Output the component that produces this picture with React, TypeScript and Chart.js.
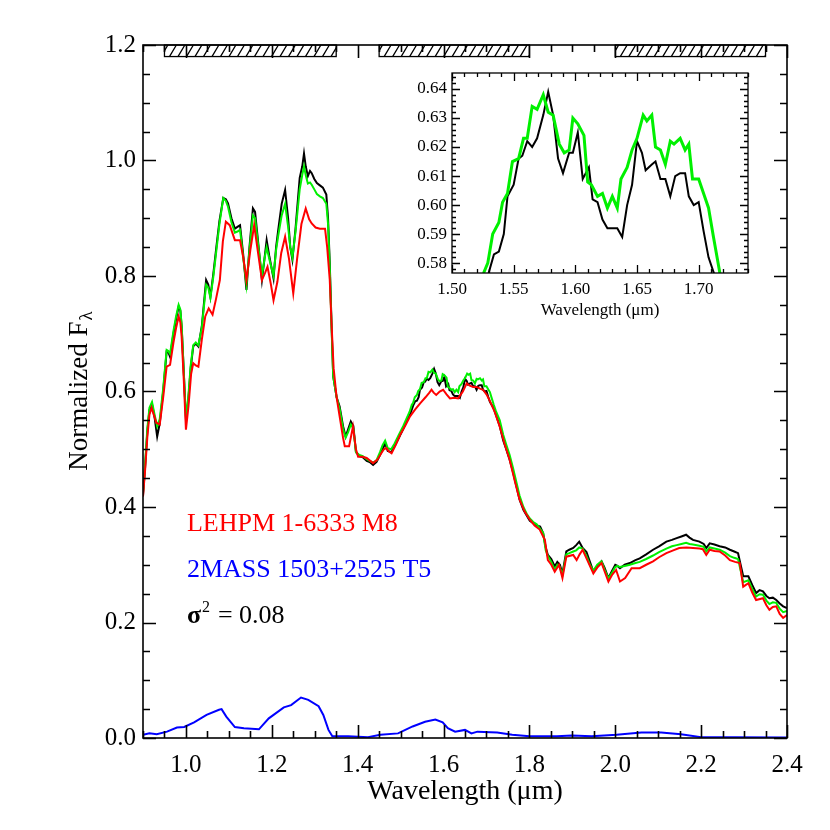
import React, { useEffect, useRef } from "react";
import { Chart, registerables } from "chart.js";

Chart.register(...registerables);

// ---------- data ----------
const blackWl = [0.900,0.905,0.910,0.915,0.921,0.927,0.933,0.939,0.947,0.955,0.959,0.963,0.971,0.977,0.983,0.987,0.990,0.994,1.000,1.005,1.011,1.017,1.023,1.029,1.037,1.047,1.052,1.057,1.064,1.071,1.078,1.087,1.093,1.098,1.106,1.114,1.120,1.126,1.133,1.141,1.148,1.156,1.161,1.168,1.177,1.183,1.188,1.194,1.204,1.210,1.215,1.223,1.231,1.238,1.243,1.248,1.255,1.265,1.271,1.275,1.279,1.284,1.289,1.293,1.299,1.305,1.312,1.319,1.327,1.331,1.335,1.339,1.343,1.351,1.358,1.366,1.372,1.378,1.384,1.390,1.396,1.404,1.412,1.421,1.428,1.436,1.444,1.452,1.458,1.464,1.470,1.478,1.486,1.496,1.506,1.515,1.523,
1.530,1.534,1.538,1.542,1.545,1.550,1.554,1.557,1.561,1.565,1.569,1.574,1.578,1.582,1.586,1.590,1.595,1.598,1.602,1.606,1.611,1.614,1.618,1.622,1.626,1.630,1.634,1.638,1.642,1.646,1.650,1.654,1.657,1.662,1.665,1.669,1.673,1.677,1.681,1.685,1.689,1.692,1.696,1.700,1.704,1.708,1.712,
1.716,1.722,1.731,1.739,1.746,1.754,1.762,1.770,1.777,1.786,1.794,1.801,1.809,1.817,1.825,1.832,1.838,1.843,1.851,1.859,1.865,1.871,1.877,1.886,1.893,1.902,1.909,1.916,1.924,1.933,1.941,1.949,1.958,1.968,1.975,1.984,1.993,2.000,2.005,2.011,2.022,2.034,2.047,2.057,2.072,2.088,2.102,2.119,2.132,2.143,2.154,2.165,2.173,2.181,2.196,2.206,2.212,2.220,2.231,2.243,2.256,2.267,2.277,2.286,2.292,2.298,2.310,2.319,2.328,2.336,2.344,2.352,2.359,2.367,2.375,2.383,2.391,2.400];
const blackFlux = [0.420,0.470,0.530,0.568,0.578,0.555,0.522,0.545,0.600,0.669,0.668,0.660,0.700,0.725,0.747,0.740,0.713,0.650,0.551,0.580,0.640,0.678,0.683,0.678,0.713,0.793,0.785,0.764,0.805,0.851,0.895,0.935,0.933,0.926,0.900,0.882,0.885,0.888,0.840,0.776,0.850,0.917,0.911,0.860,0.793,0.830,0.862,0.835,0.796,0.850,0.880,0.925,0.949,0.900,0.850,0.828,0.880,0.970,0.990,1.012,0.990,0.973,0.982,0.978,0.968,0.961,0.957,0.953,0.941,0.900,0.822,0.720,0.626,0.590,0.574,0.540,0.522,0.535,0.548,0.540,0.495,0.488,0.486,0.480,0.478,0.473,0.478,0.490,0.500,0.510,0.497,0.495,0.505,0.520,0.535,0.550,0.562,
0.577,0.583,0.584,0.590,0.603,0.607,0.616,0.617,0.622,0.620,0.623,0.631,0.639,0.631,0.616,0.611,0.618,0.618,0.625,0.609,0.613,0.602,0.601,0.595,0.592,0.592,0.592,0.589,0.600,0.607,0.622,0.618,0.612,0.614,0.615,0.609,0.609,0.603,0.610,0.611,0.611,0.603,0.600,0.601,0.591,0.582,0.577,
0.572,0.560,0.540,0.515,0.500,0.482,0.460,0.435,0.413,0.395,0.385,0.376,0.372,0.368,0.366,0.355,0.330,0.317,0.310,0.297,0.305,0.300,0.285,0.323,0.326,0.329,0.334,0.340,0.329,0.322,0.305,0.288,0.298,0.306,0.295,0.277,0.290,0.300,0.298,0.294,0.300,0.303,0.308,0.311,0.318,0.326,0.332,0.340,0.343,0.346,0.349,0.352,0.347,0.343,0.340,0.336,0.329,0.337,0.335,0.332,0.330,0.326,0.323,0.320,0.300,0.280,0.280,0.265,0.251,0.256,0.254,0.246,0.242,0.243,0.239,0.233,0.228,0.225];

const greenWl = [0.900,0.905,0.910,0.915,0.921,0.927,0.933,0.939,0.947,0.955,0.959,0.963,0.971,0.977,0.983,0.987,0.990,0.994,1.000,1.005,1.011,1.017,1.023,1.029,1.037,1.047,1.052,1.057,1.064,1.071,1.078,1.087,1.093,1.098,1.106,1.114,1.120,1.126,1.133,1.141,1.148,1.156,1.161,1.168,1.177,1.183,1.188,1.194,1.204,1.210,1.215,1.223,1.231,1.238,1.243,1.248,1.255,1.265,1.271,1.275,1.279,1.284,1.289,1.293,1.299,1.305,1.312,1.319,1.327,1.331,1.335,1.339,1.343,1.351,1.358,1.366,1.372,1.378,1.384,1.390,1.396,1.404,1.412,1.421,1.428,1.436,1.444,1.452,1.458,1.464,1.470,1.478,1.486,1.496,1.506,1.515,1.521,
1.526,1.529,1.533,1.538,1.541,1.545,1.549,1.554,1.558,1.561,1.565,1.569,1.574,1.578,1.582,1.587,1.591,1.595,1.598,1.602,1.607,1.610,1.613,1.618,1.622,1.626,1.630,1.634,1.637,1.642,1.646,1.650,1.655,1.658,1.662,1.665,1.669,1.673,1.677,1.680,1.685,1.689,1.692,1.695,1.700,1.704,1.708,1.712,1.717,
1.722,1.731,1.739,1.746,1.754,1.762,1.770,1.777,1.786,1.794,1.801,1.809,1.817,1.825,1.832,1.838,1.843,1.851,1.859,1.865,1.871,1.877,1.886,1.893,1.902,1.909,1.916,1.924,1.933,1.941,1.949,1.958,1.968,1.975,1.984,1.993,2.000,2.005,2.011,2.022,2.034,2.047,2.057,2.072,2.088,2.102,2.119,2.132,2.143,2.154,2.165,2.173,2.181,2.196,2.206,2.212,2.220,2.231,2.243,2.256,2.267,2.277,2.286,2.292,2.298,2.310,2.319,2.328,2.336,2.344,2.352,2.359,2.367,2.375,2.383,2.391,2.400];
const greenFlux = [0.425,0.475,0.535,0.572,0.582,0.560,0.540,0.552,0.605,0.672,0.670,0.665,0.705,0.730,0.750,0.742,0.715,0.650,0.555,0.585,0.645,0.680,0.685,0.680,0.710,0.785,0.780,0.762,0.800,0.845,0.890,0.935,0.930,0.920,0.893,0.875,0.877,0.880,0.835,0.785,0.845,0.905,0.900,0.855,0.800,0.830,0.850,0.830,0.800,0.845,0.870,0.905,0.925,0.885,0.850,0.832,0.875,0.950,0.975,0.990,0.975,0.960,0.962,0.958,0.950,0.942,0.938,0.935,0.925,0.890,0.815,0.715,0.626,0.590,0.570,0.535,0.520,0.530,0.543,0.536,0.495,0.490,0.488,0.483,0.480,0.477,0.481,0.495,0.507,0.515,0.502,0.500,0.510,0.525,0.540,0.555,0.565,
0.577,0.580,0.590,0.594,0.601,0.604,0.615,0.616,0.623,0.623,0.634,0.633,0.638,0.632,0.631,0.621,0.618,0.619,0.630,0.628,0.624,0.608,0.607,0.603,0.604,0.599,0.603,0.599,0.609,0.613,0.619,0.623,0.631,0.629,0.631,0.620,0.619,0.614,0.622,0.621,0.623,0.619,0.621,0.609,0.609,0.604,0.599,0.589,0.577,
0.566,0.550,0.525,0.508,0.490,0.467,0.442,0.420,0.400,0.388,0.380,0.374,0.370,0.362,0.355,0.325,0.315,0.305,0.292,0.300,0.296,0.282,0.318,0.320,0.323,0.325,0.330,0.328,0.315,0.300,0.290,0.300,0.306,0.292,0.276,0.287,0.296,0.298,0.296,0.298,0.300,0.303,0.305,0.310,0.316,0.322,0.328,0.332,0.334,0.336,0.338,0.336,0.335,0.333,0.331,0.323,0.330,0.328,0.326,0.321,0.315,0.312,0.310,0.290,0.270,0.273,0.258,0.245,0.249,0.248,0.238,0.232,0.235,0.234,0.224,0.218,0.220];

const redWl = [0.900,0.905,0.910,0.915,0.920,0.925,0.931,0.939,0.947,0.955,0.963,0.971,0.977,0.983,0.987,0.990,0.995,1.000,1.006,1.012,1.017,1.023,1.029,1.037,1.045,1.053,1.062,1.070,1.079,1.086,1.093,1.102,1.108,1.114,1.126,1.134,1.141,1.150,1.159,1.168,1.177,1.184,1.190,1.198,1.204,1.213,1.222,1.231,1.240,1.250,1.259,1.269,1.279,1.287,1.293,1.302,1.312,1.324,1.329,1.335,1.339,1.344,1.351,1.358,1.366,1.370,1.380,1.389,1.396,1.401,1.411,1.421,1.436,1.446,1.455,1.461,1.467,1.473,1.479,1.489,1.499,1.511,1.522,1.534,1.546,1.558,1.567,1.572,1.577,1.583,1.591,1.599,1.607,1.615,1.625,1.634,1.645,1.654,1.661,1.669,1.677,1.685,1.692,1.700,1.707,1.719,1.731,1.742,1.754,1.766,1.777,1.789,1.801,1.812,1.824,1.830,1.836,1.843,1.851,1.859,1.869,1.877,1.886,1.902,1.910,1.917,1.924,1.933,1.949,1.958,1.968,1.984,1.993,2.002,2.011,2.023,2.038,2.057,2.072,2.088,2.102,2.119,2.135,2.149,2.166,2.181,2.196,2.204,2.212,2.220,2.231,2.243,2.256,2.267,2.279,2.290,2.298,2.310,2.319,2.328,2.344,2.352,2.359,2.367,2.375,2.383,2.391,2.400];
const redFlux = [0.418,0.465,0.520,0.560,0.572,0.560,0.546,0.543,0.590,0.643,0.646,0.685,0.710,0.730,0.720,0.695,0.620,0.534,0.575,0.630,0.649,0.645,0.643,0.690,0.730,0.744,0.733,0.760,0.793,0.860,0.894,0.888,0.875,0.862,0.862,0.830,0.793,0.845,0.888,0.840,0.793,0.805,0.816,0.785,0.758,0.790,0.840,0.868,0.830,0.770,0.830,0.890,0.917,0.898,0.891,0.884,0.882,0.882,0.850,0.793,0.720,0.640,0.590,0.557,0.520,0.505,0.505,0.539,0.500,0.487,0.487,0.485,0.476,0.482,0.493,0.500,0.502,0.496,0.493,0.508,0.525,0.541,0.557,0.569,0.580,0.590,0.598,0.603,0.598,0.594,0.600,0.603,0.595,0.588,0.589,0.588,0.600,0.614,0.610,0.608,0.608,0.605,0.603,0.595,0.585,0.565,0.539,0.510,0.482,0.445,0.413,0.392,0.378,0.368,0.361,0.352,0.343,0.308,0.300,0.288,0.300,0.277,0.314,0.317,0.308,0.318,0.326,0.311,0.285,0.295,0.303,0.271,0.283,0.291,0.271,0.277,0.294,0.294,0.300,0.306,0.313,0.320,0.325,0.329,0.330,0.329,0.328,0.327,0.317,0.326,0.324,0.323,0.316,0.308,0.305,0.303,0.262,0.268,0.252,0.239,0.242,0.230,0.222,0.227,0.228,0.215,0.208,0.213];

const blueWl = [0.900,0.915,0.932,0.956,0.979,0.996,1.019,1.048,1.077,1.083,1.094,1.114,1.135,1.170,1.193,1.228,1.245,1.268,1.285,1.309,1.320,1.332,1.341,1.378,1.424,1.453,1.494,1.528,1.557,1.581,1.598,1.610,1.627,1.650,1.665,1.679,1.725,1.760,1.800,1.864,1.899,1.945,2.003,2.061,2.107,2.153,2.200,2.281,2.400];
const blueFlux = [0.0055,0.008,0.0066,0.011,0.018,0.019,0.027,0.040,0.049,0.050,0.037,0.019,0.017,0.015,0.034,0.053,0.057,0.070,0.066,0.055,0.040,0.014,0.003,0.003,0.0015,0.0055,0.008,0.020,0.028,0.032,0.027,0.017,0.011,0.014,0.008,0.011,0.0095,0.0055,0.003,0.003,0.0045,0.003,0.0055,0.0095,0.0095,0.0066,0.0015,0.0015,0.001];

const xTickValues = [1.0, 1.2, 1.4, 1.6, 1.8, 2.0, 2.2, 2.4];
const yTickValues = [0.0, 0.2, 0.4, 0.6, 0.8, 1.0, 1.2];
const insetXTickValues = [1.50, 1.55, 1.60, 1.65, 1.70];
const insetYTickValues = [0.58, 0.59, 0.60, 0.61, 0.62, 0.63, 0.64];

const bandStart = [0.95, 1.45, 2.00];
const bandEnd = [1.35, 1.80, 2.35];

const labelNames = ["LEHPM 1-6333 M8", "2MASS 1503+2525 T5"];
const sigmaValue = "0.08";

// ---------- styling ----------
const FONT = "'Liberation Serif', 'Times New Roman', serif";
const RED = "#ff0000";
const GREEN = "#00f000";
const BLACK = "#000000";
const BLUE = "#0000ff";

function pts(xs: number[], ys: number[]) {
  return xs.map((x, i) => ({ x, y: ys[i] }));
}

function drawFrameAndTicks(
  chart: any,
  cfg: { lw: number; xMinor: number; xMajor: number; yMinor: number; yMajor: number; majLen: number; minLen: number }
) {
  const { ctx, chartArea: a, scales } = chart;
  const xs = scales.x;
  const ys = scales.y;
  ctx.save();
  ctx.strokeStyle = "#000";
  ctx.lineWidth = cfg.lw;
  ctx.beginPath();
  const isMajor = (v: number, step: number) => Math.abs(v / step - Math.round(v / step)) < 1e-6;
  const xStart = Math.ceil(xs.min / cfg.xMinor - 1e-6);
  const xEnd = Math.floor(xs.max / cfg.xMinor + 1e-6);
  for (let k = xStart; k <= xEnd; k++) {
    const v = k * cfg.xMinor;
    const len = isMajor(v, cfg.xMajor) ? cfg.majLen : cfg.minLen;
    const p = Math.round(xs.getPixelForValue(v)) + 0.5;
    ctx.moveTo(p, a.bottom);
    ctx.lineTo(p, a.bottom - len);
    ctx.moveTo(p, a.top);
    ctx.lineTo(p, a.top + len);
  }
  const yStart = Math.ceil(ys.min / cfg.yMinor - 1e-6);
  const yEnd = Math.floor(ys.max / cfg.yMinor + 1e-6);
  for (let k = yStart; k <= yEnd; k++) {
    const v = k * cfg.yMinor;
    const len = isMajor(v, cfg.yMajor) ? cfg.majLen : cfg.minLen;
    const p = Math.round(ys.getPixelForValue(v)) + 0.5;
    ctx.moveTo(a.left, p);
    ctx.lineTo(a.left + len, p);
    ctx.moveTo(a.right, p);
    ctx.lineTo(a.right - len, p);
  }
  ctx.stroke();
  ctx.strokeRect(a.left, a.top, a.right - a.left, a.bottom - a.top);
  ctx.restore();
}

const mainPlugin = {
  id: "mainDecor",
  afterDraw(chart: any) {
    const { ctx, chartArea: a, scales } = chart;
    const xs = scales.x;
    const ys = scales.y;

    // hatched bands at top
    ctx.save();
    const yTop = ys.getPixelForValue(1.2);
    const yBot = ys.getPixelForValue(1.18);
    for (let i = 0; i < bandStart.length; i++) {
      const x0 = xs.getPixelForValue(bandStart[i]);
      const x1 = xs.getPixelForValue(bandEnd[i]);
      ctx.save();
      ctx.beginPath();
      ctx.rect(x0, yTop, x1 - x0, yBot - yTop);
      ctx.clip();
      ctx.strokeStyle = "#000";
      ctx.lineWidth = 1.3;
      ctx.beginPath();
      const h = yBot - yTop;
      for (let x = x0 - 12; x < x1 + 12; x += 8.5) {
        ctx.moveTo(x, yBot);
        ctx.lineTo(x + h * 0.6, yTop);
      }
      ctx.stroke();
      ctx.restore();
      ctx.strokeStyle = "#000";
      ctx.lineWidth = 1.3;
      ctx.strokeRect(x0, yTop, x1 - x0, yBot - yTop);
    }
    ctx.restore();

    drawFrameAndTicks(chart, { lw: 1.6, xMinor: 0.05, xMajor: 0.2, yMinor: 0.05, yMajor: 0.2, majLen: 13, minLen: 7 });

    // annotations
    ctx.save();
    ctx.textBaseline = "alphabetic";
    ctx.textAlign = "left";
    const ax = xs.getPixelForValue(1.0) + 1;
    ctx.font = `26px ${FONT}`;
    ctx.fillStyle = RED;
    ctx.fillText(labelNames[0], ax, ys.getPixelForValue(0.359));
    ctx.fillStyle = BLUE;
    ctx.fillText(labelNames[1], ax, ys.getPixelForValue(0.279));
    ctx.fillStyle = "#000";
    const sy = ys.getPixelForValue(0.2);
    ctx.font = `bold 26px ${FONT}`;
    ctx.fillText("σ", ax, sy);
    const ws = ctx.measureText("σ").width;
    ctx.font = `16px ${FONT}`;
    ctx.fillText("2", ax + ws + 1, sy - 11);
    ctx.font = `26px ${FONT}`;
    ctx.fillText("= " + sigmaValue, ax + 31, sy);
    ctx.restore();

    // y axis title with subscript
    ctx.save();
    const cy = (a.top + a.bottom) / 2;
    ctx.translate(87, cy);
    ctx.rotate(-Math.PI / 2);
    ctx.fillStyle = "#000";
    ctx.textBaseline = "alphabetic";
    ctx.textAlign = "left";
    ctx.font = `27px ${FONT}`;
    const t1 = "Normalized F";
    const w1 = ctx.measureText(t1).width;
    ctx.font = `19px ${FONT}`;
    const w2 = ctx.measureText("λ").width;
    const start = -(w1 + w2) / 2;
    ctx.font = `27px ${FONT}`;
    ctx.fillText(t1, start, 0);
    ctx.font = `19px ${FONT}`;
    ctx.fillText("λ", start + w1 + 1, 5);
    ctx.restore();
  },
};

const insetPlugin = {
  id: "insetDecor",
  afterDraw(chart: any) {
    drawFrameAndTicks(chart, { lw: 1.3, xMinor: 0.01, xMajor: 0.05, yMinor: 0.002, yMajor: 0.01, majLen: 8, minLen: 4 });
  },
};

export default function App() {
  const mainRef = useRef<HTMLCanvasElement | null>(null);
  const insetRef = useRef<HTMLCanvasElement | null>(null);

  useEffect(() => {
    if (!mainRef.current || !insetRef.current) return;

    const lineDs = (label: string, data: any[], color: string, width: number, order: number) => ({
      label,
      data,
      borderColor: color,
      backgroundColor: color,
      borderWidth: width,
      pointRadius: 0,
      tension: 0,
      fill: false,
      order,
    });

    const main = new Chart(mainRef.current, {
      type: "line",
      data: {
        datasets: [
          lineDs("LEHPM 1-6333", pts(redWl, redFlux), RED, 2, 0),
          lineDs("Template", pts(greenWl, greenFlux), GREEN, 2, 1),
          lineDs("2MASS 1503+2525", pts(blackWl, blackFlux), BLACK, 2, 2),
          lineDs("Difference", pts(blueWl, blueFlux), BLUE, 2, 3),
        ],
      },
      options: {
        responsive: false,
        animation: false,
        devicePixelRatio: 1,
        layout: { padding: { top: 45, right: 43, left: 0, bottom: 0 } },
        plugins: { legend: { display: false }, tooltip: { enabled: false } },
        scales: {
          x: {
            type: "linear",
            min: 0.9,
            max: 2.4,
            afterBuildTicks: (s: any) => {
              s.ticks = xTickValues.map((v) => ({ value: v }));
            },
            afterFit: (s: any) => {
              s.height = 92;
            },
            grid: { display: false, drawTicks: false },
            border: { display: false },
            ticks: {
              font: { family: FONT, size: 25 },
              color: "#000",
              padding: 12,
              maxRotation: 0,
              autoSkip: false,
              callback: (v: any) => Number(v).toFixed(1),
            },
            title: {
              display: true,
              text: "Wavelength (μm)",
              font: { family: FONT, size: 28 },
              color: "#000",
              padding: { top: 0, bottom: 22 },
            },
          },
          y: {
            type: "linear",
            min: 0,
            max: 1.2,
            afterBuildTicks: (s: any) => {
              s.ticks = yTickValues.map((v) => ({ value: v }));
            },
            afterFit: (s: any) => {
              s.width = 143;
            },
            grid: { display: false, drawTicks: false },
            border: { display: false },
            ticks: {
              font: { family: FONT, size: 25 },
              color: "#000",
              padding: 7,
              autoSkip: false,
              callback: (v: any) => Number(v).toFixed(1),
            },
          },
        },
      },
      plugins: [mainPlugin],
    } as any);

    const inset = new Chart(insetRef.current, {
      type: "line",
      data: {
        datasets: [
          lineDs("Template", pts(greenWl, greenFlux), GREEN, 3, 0),
          lineDs("2MASS 1503+2525", pts(blackWl, blackFlux), BLACK, 2, 1),
        ],
      },
      options: {
        responsive: false,
        animation: false,
        devicePixelRatio: 1,
        layout: { padding: { top: 18, right: 32, left: 0, bottom: 0 } },
        plugins: { legend: { display: false }, tooltip: { enabled: false } },
        scales: {
          x: {
            type: "linear",
            min: 1.5,
            max: 1.74,
            afterBuildTicks: (s: any) => {
              s.ticks = insetXTickValues.map((v) => ({ value: v }));
            },
            afterFit: (s: any) => {
              s.height = 52;
            },
            grid: { display: false, drawTicks: false },
            border: { display: false },
            ticks: {
              font: { family: FONT, size: 17 },
              color: "#000",
              padding: 6,
              maxRotation: 0,
              autoSkip: false,
              callback: (v: any) => Number(v).toFixed(2),
            },
            title: {
              display: true,
              text: "Wavelength (μm)",
              font: { family: FONT, size: 17 },
              color: "#000",
              padding: { top: 0, bottom: 4 },
            },
          },
          y: {
            type: "linear",
            min: 0.5766,
            max: 0.6455,
            afterBuildTicks: (s: any) => {
              s.ticks = insetYTickValues.map((v) => ({ value: v }));
            },
            afterFit: (s: any) => {
              s.width = 72;
            },
            grid: { display: false, drawTicks: false },
            border: { display: false },
            ticks: {
              font: { family: FONT, size: 17 },
              color: "#000",
              padding: 5,
              autoSkip: false,
              callback: (v: any) => Number(v).toFixed(2),
            },
          },
        },
      },
      plugins: [insetPlugin],
    } as any);

    return () => {
      main.destroy();
      inset.destroy();
    };
  }, []);

  return (
    <div style={{ position: "absolute", left: 0, top: 0, width: 830, height: 830, background: "#fff" }}>
      <canvas ref={mainRef} width={830} height={830} style={{ position: "absolute", left: 0, top: 0, width: 830, height: 830 }} />
      <canvas ref={insetRef} width={400} height={270} style={{ position: "absolute", left: 380, top: 55, width: 400, height: 270 }} />
    </div>
  );
}
